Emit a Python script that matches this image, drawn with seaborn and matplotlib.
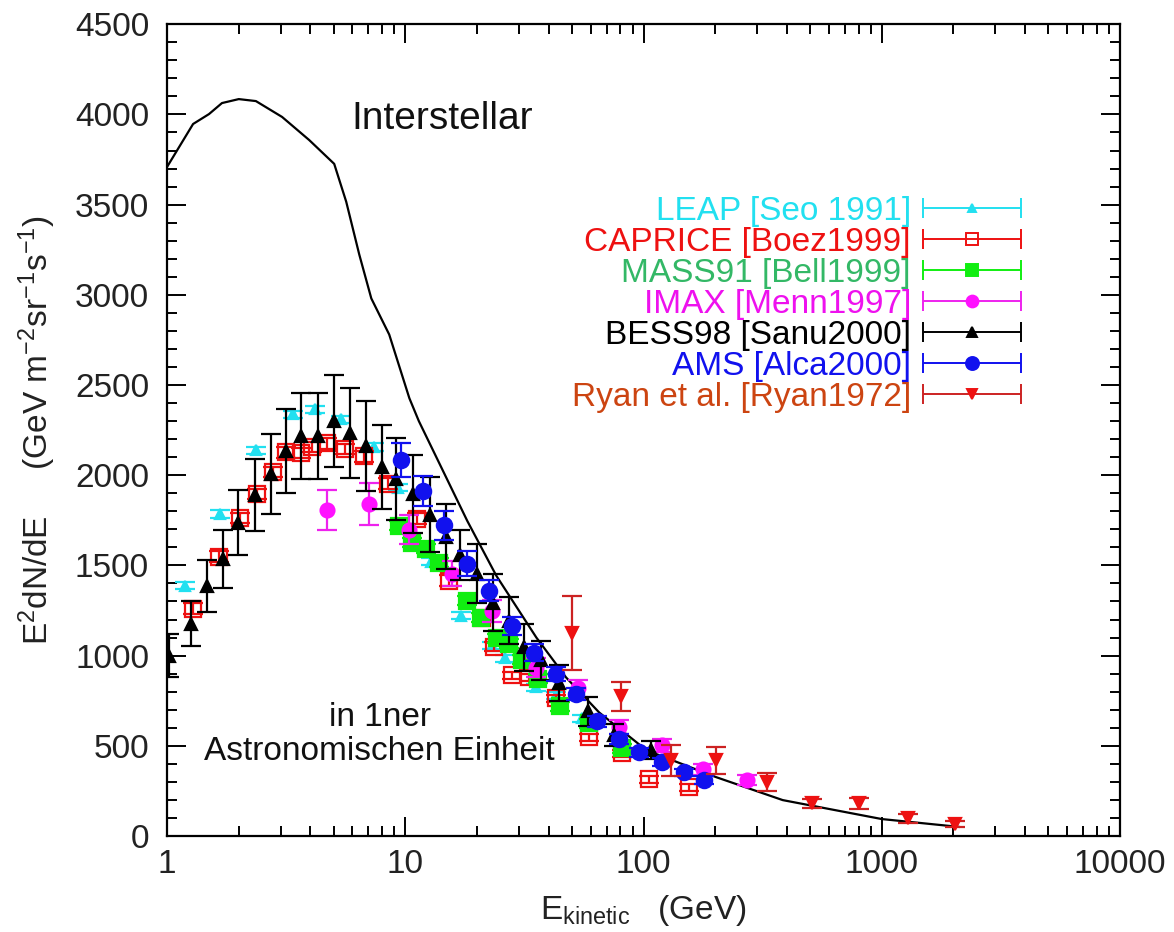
import numpy as np
import pandas as pd
import matplotlib
matplotlib.use("Agg")
import matplotlib.pyplot as plt
import seaborn as sns
from matplotlib.container import ErrorbarContainer
from matplotlib.legend_handler import HandlerErrorbar
from matplotlib.ticker import MultipleLocator, LogLocator, NullFormatter, FixedLocator, FixedFormatter

# ---------------- data ----------------
# Interstellar (unmodulated) spectrum
ism_E = [1.0, 1.286, 1.5, 1.7, 2.0, 2.36, 3.04, 3.95, 5.03, 5.65, 6.41, 7.2, 8.56,
         10.4, 11.4, 18.2, 24.1, 35.5, 47.3, 65.1, 103, 202, 384, 1000, 2126]
ism_F = [3709, 3947, 4002, 4063, 4085, 4074, 3986, 3858, 3726, 3516, 3223, 2980, 2780,
         2427, 2300, 1747, 1443, 1100, 879, 685, 475, 326, 199, 94, 50]

leap_E = [1.19, 1.67, 2.37, 3.38, 4.19, 5.38, 7.41, 9.3, 12.8, 17.2, 23.2, 26.3, 35.5, 43.0, 55.0]
leap_F = [1387, 1785, 2139, 2338, 2366, 2311, 2156, 1930, 1520, 1222, 1056, 984, 824, 780, 652]
leap_err = [20, 20, 20, 20, 20, 20, 20, 20, 20, 20, 20, 20, 20, 20, 20]

caprice_E = [1.286, 1.654, 2.03, 2.39, 2.79, 3.16, 3.66, 4.07, 4.70, 5.60, 6.73, 8.49,
             11.2, 15.3, 21.0, 23.6, 28.1, 33.2, 43.1, 59.0, 81.0, 105, 155]
caprice_F = [1260, 1548, 1763, 1896, 2018, 2128, 2123, 2156, 2178, 2145, 2106, 1954,
             1758, 1415, 1211, 1050, 890, 879, 763, 547, 459, 315, 271]
caprice_err = [30, 30, 30, 30, 30, 30, 30, 30, 30, 30, 30, 30,
               30, 30, 25, 25, 20, 20, 20, 20, 20, 20, 20]

mass_E = [9.4, 10.7, 12.2, 13.9, 18.2, 20.8, 24.3, 27.3, 31.0, 36.2, 44.5, 59.0, 81.0]
mass_F = [1720, 1625, 1592, 1515, 1305, 1211, 1095, 1067, 978, 873, 719, 625, 486]
mass_err = [25, 25, 25, 25, 25, 25, 25, 25, 25, 25, 25, 25, 25]

imax_E = [4.70, 7.06, 10.4, 15.7, 23.2, 35.5, 53.0, 79.0, 119, 178, 271]
imax_F = [1808, 1841, 1697, 1454, 1249, 934, 818, 603, 503, 370, 310]
imax_err = [110, 115, 80, 70, 60, 50, 45, 40, 35, 30, 30]

bess_E = [1.02, 1.26, 1.47, 1.72, 1.99, 2.34, 2.73, 3.16, 3.66, 4.31, 5.03, 5.88, 6.86,
          8.0, 9.18, 10.8, 12.7, 14.8, 17.0, 20.0, 23.4, 27.3, 31.6, 37.2, 44.0, 58.6, 75.0, 108]
bess_F = [1000, 1177, 1387, 1537, 1736, 1890, 2007, 2134, 2217, 2217, 2300, 2233, 2161,
          2045, 1979, 1896, 1780, 1658, 1559, 1454, 1294, 1194, 1045, 973, 850, 691, 560, 475]
bess_err = [120, 125, 145, 160, 180, 200, 220, 235, 240, 240, 254, 250, 250,
            232, 225, 215, 208, 180, 140, 165, 158, 130, 130, 110, 100, 80, 60, 50]

ams_E = [9.6, 11.9, 14.6, 18.2, 22.5, 28.1, 34.6, 43.1, 52.1, 64.0, 79.0, 96.0, 119, 148, 180]
ams_F = [2084, 1913, 1722, 1509, 1360, 1166, 1017, 898, 788, 635, 540, 464, 409, 354, 310]
ams_err = [95, 85, 80, 70, 60, 50, 45, 40, 35, 30, 28, 25, 22, 20, 20]

ryan_E = [50.3, 80.7, 131, 202, 331, 509, 803, 1294, 2026]
ryan_F = [1128, 774, 420, 420, 298, 182, 182, 99, 66]
ryan_err = [205, 80, 85, 75, 50, 25, 30, 25, 15]

x_ticks = [1, 10, 100, 1000, 10000]
x_ticklabels = ["1", "10", "100", "1000", "10000"]

# ---------------- style ----------------
sns.set_theme(style="ticks")
plt.rcParams["font.family"] = ["Liberation Sans", "DejaVu Sans"]
plt.rcParams["mathtext.fontset"] = "custom"
plt.rcParams["mathtext.rm"] = "Liberation Sans"
plt.rcParams["mathtext.it"] = "Liberation Sans"

fig = plt.figure(figsize=(11.74, 9.32), dpi=100)
ax = fig.add_axes([0.1423, 0.103, 0.8117, 0.871])

# interstellar curve
ism_df = pd.DataFrame({"E": ism_E, "F": ism_F})
sns.lineplot(data=ism_df, x="E", y="F", ax=ax, color="black", lw=1.6,
             estimator=None, sort=False, zorder=3)

series = [
    # label, E, F, err, marker, size, face, edge, barcolor, textcolor
    ("LEAP [Seo 1991]", leap_E, leap_F, leap_err, "^", 7, "#22e0f0", "#22e0f0", "#22e0f0", "#22e0f0"),
    ("CAPRICE [Boez1999]", caprice_E, caprice_F, caprice_err, "s", 11, "none", "#ee1111", "#ee1111", "#ee1111"),
    ("MASS91 [Bell1999]", mass_E, mass_F, mass_err, "s", 11, "#11ee11", "#11ee11", "#11ee11", "#33b866"),
    ("IMAX [Menn1997]", imax_E, imax_F, imax_err, "o", 10, "#ff11ff", "#ff11ff", "#ee22ee", "#ee11ee"),
    ("BESS98 [Sanu2000]", bess_E, bess_F, bess_err, "^", 9, "black", "black", "black", "black"),
    ("AMS [Alca2000]", ams_E, ams_F, ams_err, "o", 11, "#1111ee", "#1111ee", "#1111ee", "#1111ee"),
    ("Ryan et al. [Ryan1972]", ryan_E, ryan_F, ryan_err, "v", 8, "#ee1111", "#ee1111", "#cc2222", "#cc4411"),
]

handles = []
labels = []
text_colors = []
for i, (lab, E, F, err, mk, ms, fc, ec, bc, tc) in enumerate(series):
    ax.errorbar(E, F, yerr=err, fmt=mk, ms=ms, mfc=fc, mec=ec, mew=1.6,
                ecolor=bc, elinewidth=1.6, capsize=7, capthick=1.6, zorder=4 + i)
    # legend sample: horizontal bar with end caps and the marker in the middle
    proxy = ax.errorbar([np.nan], [np.nan], xerr=[1.0], fmt=mk, ms=ms * 0.85,
                        mfc=fc, mec=ec, mew=1.4, ecolor=bc, elinewidth=1.4,
                        capsize=7, capthick=1.4)
    handles.append(proxy)
    labels.append(lab)
    text_colors.append(tc)

# ---------------- axes ----------------
ax.set_xscale("log")
ax.set_xlim(1, 10000)
ax.set_ylim(0, 4500)
ax.xaxis.set_major_locator(FixedLocator(x_ticks))
ax.xaxis.set_major_formatter(FixedFormatter(x_ticklabels))
ax.xaxis.set_minor_locator(LogLocator(base=10, subs=np.arange(2, 10)))
ax.xaxis.set_minor_formatter(NullFormatter())
ax.yaxis.set_major_locator(MultipleLocator(500))
ax.yaxis.set_minor_locator(MultipleLocator(100))

for s in ax.spines.values():
    s.set_visible(True)
    s.set_linewidth(1.6)
    s.set_color("black")
ax.tick_params(which="both", direction="in", top=True, right=True,
               colors="black", labelsize=24, width=1.4)
ax.tick_params(which="major", length=14)
ax.tick_params(which="minor", length=7)
ax.tick_params(axis="x", which="major", pad=9)
ax.tick_params(axis="y", which="major", pad=13)
for t in ax.get_xticklabels() + ax.get_yticklabels():
    t.set_color("#222222")

ax.set_xlabel(r"E$_{\mathrm{kinetic}}$   (GeV)", fontsize=24, labelpad=10, color="#222222")
ax.set_ylabel(r"E$^{2}$dN/dE     (GeV m$^{-2}$sr$^{-1}$s$^{-1}$)", fontsize=24,
              labelpad=12, color="#222222")

ax.text(0.289, 0.883, "Interstellar", transform=ax.transAxes, fontsize=28,
        ha="center", va="center", color="#111111")
ax.text(0.223, 0.125, "in 1ner\nAstronomischen Einheit", transform=ax.transAxes,
        fontsize=24, ha="center", va="center", linespacing=1.1, color="#111111")

leg = ax.legend(handles, labels, loc="upper right", bbox_to_anchor=(0.91, 0.805),
                markerfirst=False, frameon=False, fontsize=24, handlelength=2.95,
                handletextpad=0.35, labelspacing=0.0, alignment="right",
                borderaxespad=0.0,
                handler_map={ErrorbarContainer: HandlerErrorbar(xerr_size=1.47)})
for t, c in zip(leg.get_texts(), text_colors):
    t.set_color(c)

fig.savefig("out.png", dpi=100, facecolor="white")
